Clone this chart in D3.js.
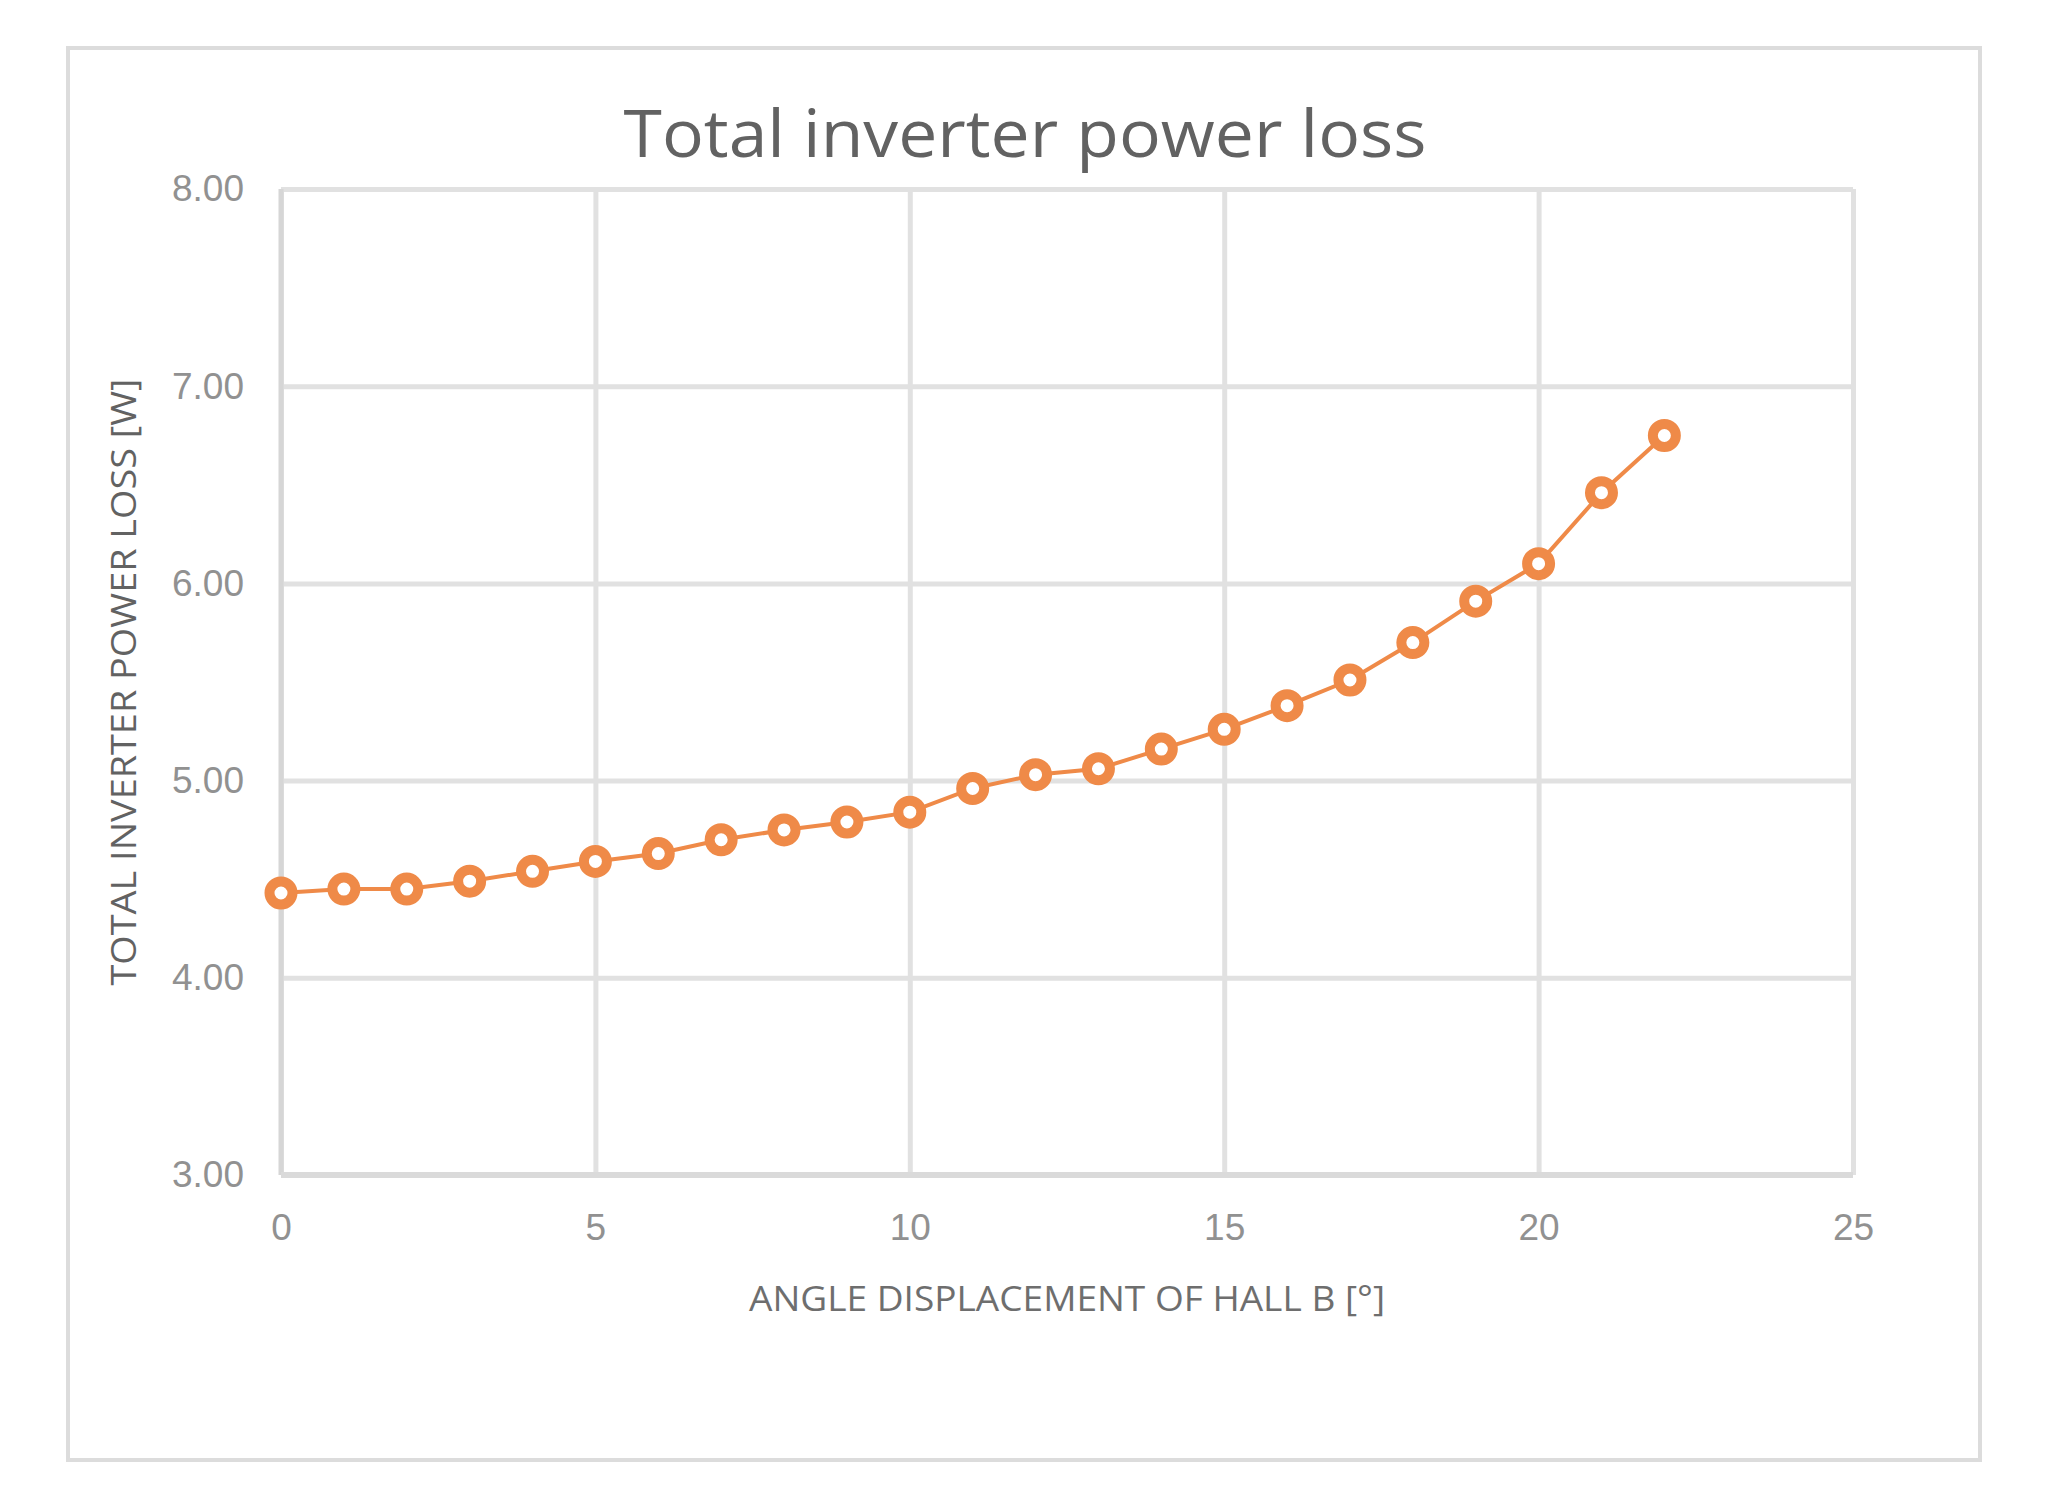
<!DOCTYPE html>
<html>
<head>
<meta charset="utf-8">
<script src="https://cdn.jsdelivr.net/npm/d3@7"></script>
<style>
    html, body { margin: 0; padding: 0; background: #ffffff; }
    svg { display: block; font-family: "Open Sans", sans-serif; }
</style>
</head>
<body>
<div id="chart"></div>
<script>
// Data
const angles = [0, 1, 2, 3, 4, 5, 6, 7, 8, 9, 10, 11, 12, 13, 14, 15, 16, 17, 18, 19, 20, 21, 22];
const powerLoss = [4.43, 4.45, 4.45, 4.49, 4.54, 4.59, 4.63, 4.70, 4.75, 4.79, 4.84, 4.96,
                   5.03, 5.06, 5.16, 5.26, 5.38, 5.51, 5.70, 5.91, 6.10, 6.46, 6.75];
const xTicks = [0, 5, 10, 15, 20, 25];
const yTicks = [3, 4, 5, 6, 7, 8];

const chartTitle = 'Total inverter power loss';
const xTitle = 'ANGLE DISPLACEMENT OF HALL B [°]';
const yTitle = 'TOTAL INVERTER POWER LOSS [W]';

const width = 2047;
const height = 1507;
const margin = {top: 189, right: 194, bottom: 332, left: 281};
const plotW = width - margin.left - margin.right;
const plotH = height - margin.top - margin.bottom;

const gridColor = '#e1e1e1';
const lineColor = '#ef8a48';

const svg = d3.select('#chart')
    .append('svg')
    .attr('width', width)
    .attr('height', height);

// outer chart border
svg.append('rect')
    .attr('x', 68)
    .attr('y', 48)
    .attr('width', 1912)
    .attr('height', 1412)
    .attr('fill', '#ffffff')
    .attr('stroke', '#dcdcdc')
    .attr('stroke-width', 4);

const g = svg.append('g')
    .attr('transform', `translate(${margin.left},${margin.top})`);

const x = d3.scaleLinear().domain([0, 25]).range([0, plotW]);
const y = d3.scaleLinear().domain([3, 8]).range([plotH, 0]);

// horizontal gridlines + y tick labels
const yAxis = g.append('g')
    .call(d3.axisLeft(y)
        .tickValues(yTicks)
        .tickSize(-plotW)
        .tickPadding(37)
        .tickFormat(d3.format('.2f')));

// vertical gridlines + x tick labels
const xAxis = g.append('g')
    .attr('transform', `translate(0,${plotH})`)
    .call(d3.axisBottom(x)
        .tickValues(xTicks)
        .tickSize(-plotH)
        .tickPadding(38)
        .tickFormat(d3.format('d')));

[xAxis, yAxis].forEach(ax => {
    ax.select('.domain').remove();
    ax.selectAll('.tick line')
        .attr('stroke', gridColor)
        .attr('stroke-width', 5);
    ax.selectAll('.tick text')
        .attr('fill', '#919191')
        .style('font-size', '37px');
});
xAxis.selectAll('.tick text').attr('dy', '0.72em');

// plot area left and bottom edges are a touch darker
g.append('line')
    .attr('x1', 0).attr('x2', 0)
    .attr('y1', 0).attr('y2', plotH)
    .attr('stroke', '#d6d6d6')
    .attr('stroke-width', 5);
g.append('line')
    .attr('x1', 0).attr('x2', plotW)
    .attr('y1', plotH).attr('y2', plotH)
    .attr('stroke', '#dadada')
    .attr('stroke-width', 6);

// series line
const points = angles.map((a, i) => ({a: a, v: powerLoss[i]}));

const line = d3.line()
    .x(d => x(d.a))
    .y(d => y(d.v));

g.append('path')
    .datum(points)
    .attr('fill', 'none')
    .attr('stroke', lineColor)
    .attr('stroke-width', 4)
    .attr('d', line);

// hollow circle markers
g.selectAll('circle.marker')
    .data(points)
    .enter().append('circle')
    .attr('class', 'marker')
    .attr('cx', d => x(d.a))
    .attr('cy', d => y(d.v))
    .attr('r', 11.5)
    .attr('fill', '#ffffff')
    .attr('stroke', lineColor)
    .attr('stroke-width', 10);

// chart title
svg.append('text')
    .attr('x', 1025)
    .attr('y', 157)
    .attr('text-anchor', 'middle')
    .attr('fill', '#626262')
    .attr('textLength', 803)
    .attr('lengthAdjust', 'spacingAndGlyphs')
    .style('font-size', '66px')
    .text(chartTitle);

// x axis title
svg.append('text')
    .attr('x', margin.left + plotW / 2)
    .attr('y', 1311)
    .attr('text-anchor', 'middle')
    .attr('fill', '#6e6e6e')
    .attr('textLength', 636)
    .attr('lengthAdjust', 'spacingAndGlyphs')
    .style('font-size', '34px')
    .text(xTitle);

// y axis title
svg.append('text')
    .attr('transform', `translate(136,${margin.top + plotH / 2}) rotate(-90)`)
    .attr('text-anchor', 'middle')
    .attr('fill', '#626262')
    .attr('textLength', 607)
    .attr('lengthAdjust', 'spacingAndGlyphs')
    .style('font-size', '34px')
    .text(yTitle);
</script>
</body>
</html>
